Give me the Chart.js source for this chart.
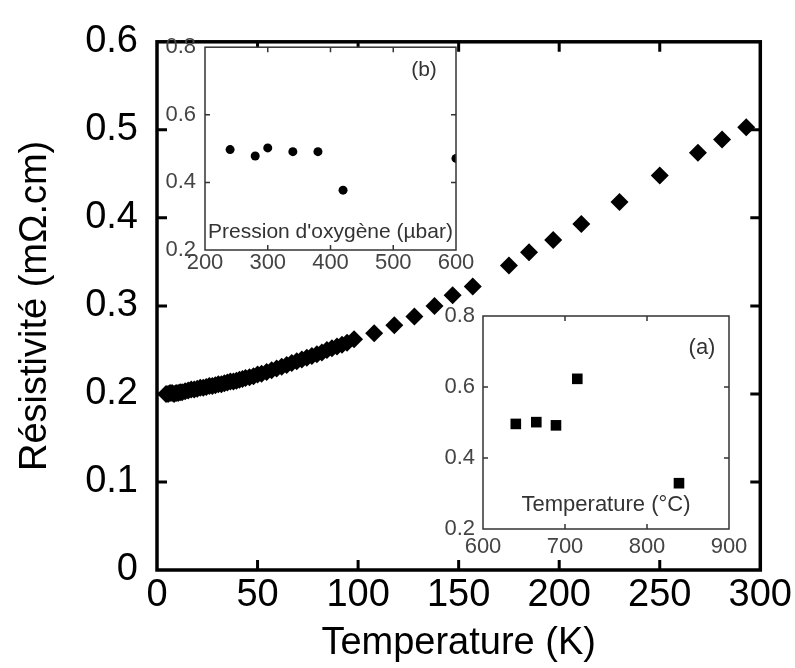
<!DOCTYPE html>
<html>
<head>
<meta charset="utf-8">
<script src="https://cdn.jsdelivr.net/npm/chart.js@4.4.0/dist/chart.umd.min.js"></script>
<style>
  html,body{margin:0;padding:0;background:#fff;}
  #wrap{position:relative;width:795px;height:668px;}
  canvas{position:absolute;}
</style>
</head>
<body>
<div id="wrap">
  <canvas id="main" width="795" height="668" style="left:0;top:0"></canvas>
  <canvas id="insetB" width="330" height="260" style="left:150px;top:25px"></canvas>
  <canvas id="insetA" width="350" height="290" style="left:420px;top:290px"></canvas>
</div>
<script>
/* --- DATA --- */
// main curve: resistivity vs temperature
const tempK  = [4.5,5.5,6.5,7.5,8.5,9.5,10.5,11.5,12.5,14,15.5,17,18.5,20,21.5,23,24.5,26,27.5,29,
                30.5,32,33.5,35,36.5,38,39.5,41,42.5,44,46,48,50,52,54.5,57,59.5,62,64.5,67,
                69.5,72,74.5,77,79.5,82,84.5,87,89.5,92,94.5,98,
                108,118,128,138,147,157,175,185,197,211,230,250,269,281,293];
const resist = [0.200,0.200,0.201,0.201,0.200,0.201,0.201,0.202,0.202,0.203,0.204,0.205,0.205,0.206,0.207,0.207,0.208,0.209,0.209,0.210,
                0.211,0.211,0.212,0.213,0.214,0.214,0.215,0.216,0.217,0.218,0.219,0.220,0.222,0.223,0.225,0.227,0.229,0.231,0.233,0.235,
                0.237,0.239,0.241,0.243,0.245,0.247,0.250,0.252,0.254,0.256,0.258,0.262,
                0.269,0.278,0.288,0.300,0.312,0.322,0.346,0.361,0.375,0.393,0.418,0.448,0.474,0.489,0.503];

// inset (b): oxygen pressure
const pressure = [240,280,300,340,380,420,600];
const resistB  = [0.497,0.478,0.502,0.491,0.491,0.377,0.471];

// inset (a): annealing temperature
const annealT  = [640,665,689,715,839];
const resistA  = [0.496,0.501,0.492,0.623,0.329];

const F = "'Liberation Sans', Arial, Helvetica, sans-serif";
const pts = (xs,ys)=>xs.map((x,i)=>({x:x,y:ys[i]}));

/* --- FRAME + INWARD TICKS --- */
const frame = {
  id:'frame',
  beforeDraw(chart,args,o){
    if(!o.fill) return;
    const a = chart.chartArea, ctx = chart.ctx;
    ctx.save(); ctx.fillStyle = o.fill;
    ctx.fillRect(a.left,a.top,a.right-a.left,a.bottom-a.top);
    ctx.restore();
  },
  afterDraw(chart,args,o){
    const {ctx, chartArea:a, scales:{x,y}} = chart;
    ctx.save();
    ctx.strokeStyle = o.color;
    ctx.lineWidth = o.tickWidth;
    ctx.beginPath();
    x.ticks.forEach(t=>{
      if(t.value<=x.min || t.value>=x.max) return;
      const px = x.getPixelForValue(t.value);
      ctx.moveTo(px,a.bottom); ctx.lineTo(px,a.bottom-o.len);
      ctx.moveTo(px,a.top);    ctx.lineTo(px,a.top+o.len);
    });
    y.ticks.forEach(t=>{
      if(t.value<=y.min+1e-9 || t.value>=y.max-1e-9) return;
      const py = y.getPixelForValue(t.value);
      ctx.moveTo(a.left,py);  ctx.lineTo(a.left+o.len,py);
      ctx.moveTo(a.right,py); ctx.lineTo(a.right-o.len,py);
    });
    ctx.stroke();
    ctx.lineWidth = o.width;
    ctx.strokeRect(a.left,a.top,a.right-a.left,a.bottom-a.top);
    // texts inside the box
    (o.texts||[]).forEach(s=>{
      ctx.font = s.size+'px '+F;
      ctx.fillStyle = s.color;
      ctx.textAlign = 'center';
      ctx.textBaseline = 'middle';
      const tx = s.fromRight!=null ? a.right-s.fromRight : (a.left+a.right)/2;
      const ty = s.fromTop!=null ? a.top+s.fromTop : a.bottom-s.fromBottom;
      ctx.fillText(s.text,tx,ty);
    });
    ctx.restore();
  }
};

const base = {responsive:false,animation:false,devicePixelRatio:1,
  plugins:{legend:{display:false},tooltip:{enabled:false}}};
const noGrid = {display:false,drawTicks:false};

/* --- MAIN CHART --- */
const bigTk = {color:'#000',font:{family:F,size:38}};
new Chart(document.getElementById('main'),{
  type:'scatter',
  data:{datasets:[{data:pts(tempK,resist),pointStyle:'rectRot',pointRadius:9,
    backgroundColor:'#000',borderColor:'#000',borderWidth:0}]},
  options:{...base,
    layout:{padding:{top:31,right:34,left:0,bottom:0}},
    scales:{
      x:{min:0,max:300,ticks:{...bigTk,stepSize:50,padding:3,maxRotation:0},
         grid:noGrid,border:{display:false},
         title:{display:true,text:'Temperature (K)',color:'#000',font:{family:F,size:38},padding:{top:0,bottom:2}},
         afterFit:s=>{s.height=98;}},
      y:{min:0,max:0.6,ticks:{...bigTk,stepSize:0.1,padding:19},
         grid:noGrid,border:{display:false},
         title:{display:true,text:'Résistivité (mΩ.cm)',color:'#000',font:{family:F,size:38},padding:{top:13,bottom:0}},
         afterFit:s=>{s.width=157;}}
    },
    plugins:{...base.plugins,frame:{color:'#000',width:3.5,tickWidth:3,len:10}}
  },
  plugins:[frame]
});

/* --- INSETS --- */
const smTk = {color:'#444',font:{family:F,size:22}};
function inset(id,xs,ys,style,radius,xmin,xmax,pad,yw,xh,xpad,ypad,texts){
  return new Chart(document.getElementById(id),{
    type:'scatter',
    data:{datasets:[{data:pts(xs,ys),pointStyle:style,pointRadius:radius,
      backgroundColor:'#000',borderColor:'#000',borderWidth:0}]},
    options:{...base,
      layout:{padding:pad},
      scales:{
        x:{min:xmin,max:xmax,ticks:{...smTk,stepSize:100,padding:xpad,maxRotation:0},
           grid:noGrid,border:{display:false},afterFit:s=>{s.height=xh;}},
        y:{min:0.2,max:0.8,ticks:{...smTk,stepSize:0.2,padding:ypad},
           grid:noGrid,border:{display:false},afterFit:s=>{s.width=yw;}}
      },
      plugins:{...base.plugins,frame:{color:'#333',width:1.5,tickWidth:1.5,len:5,fill:'#fff',texts:texts}}
    },
    plugins:[frame]
  });
}

inset('insetB',pressure,resistB,'circle',4.5,200,600,
  {top:19,right:24,left:0,bottom:0},55,35,0,9,
  [{text:'(b)',size:21,color:'#333',fromRight:32,fromTop:23},
   {text:"Pression d'oxygène (µbar)",size:21,color:'#333',fromBottom:18}]);

inset('insetA',annealT,resistA,'rect',7.5,600,900,
  {top:26,right:41,left:0,bottom:0},63,51,5,8,
  [{text:'(a)',size:22,color:'#333',fromRight:27,fromTop:32},
   {text:'Temperature (°C)',size:22,color:'#333',fromBottom:24}]);
</script>
</body>
</html>
